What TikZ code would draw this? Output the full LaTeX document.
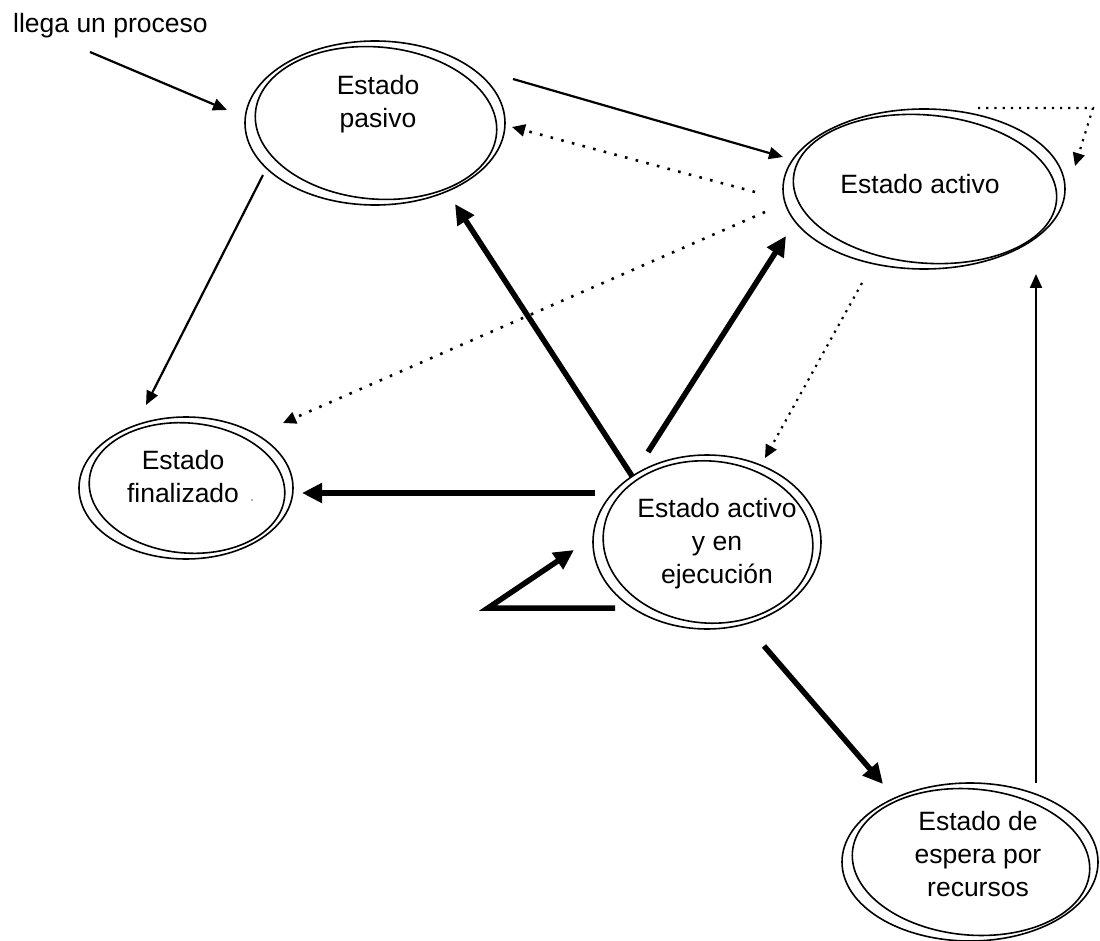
\documentclass[tikz,border=0pt]{standalone}
\usepackage{fontspec}
\setmainfont{Liberation Sans}
\usetikzlibrary{arrows.meta,shapes.geometric}

\tikzset{
  ring/.style={ellipse, draw, line width=1.6pt, inner sep=0pt},
  lbl/.style={font=\fontsize{26.5}{33}\selectfont, align=center, inner sep=0pt},
  thinarrow/.style={line width=2.2pt, -{Triangle[length=14pt,width=12pt]}},
  thickarrow/.style={line width=5.5pt, -{Triangle[length=20pt,width=19pt]}},
  dotarrow/.style={line width=2.6pt, dash pattern=on 2.6pt off 8.4pt, -{Triangle[length=13pt,width=12pt]}},
  finedots/.style={line width=2.2pt, dash pattern=on 2.2pt off 5.6pt, -{Triangle[length=13pt,width=12pt]}},
}

% double-ringed state: name, x, y, half width, half height
\newcommand\dblstate[5]{%
  \node[ring, minimum width={2*#4}, minimum height={2*#5}] (#1) at (#2,#3) {};
  \node[ring, minimum width={2*#4-18}, minimum height={2*#5-12}, rotate=-5] (#1-in) at (#2+1,#3) {};
}

\begin{document}
\begin{tikzpicture}[x=1pt,y=-1pt]
\useasboundingbox (0,0) rectangle (1100,941);

% states
\dblstate{pas}{375}{123}{130}{82}
\dblstate{act}{924}{189}{141}{80}
\dblstate{fin}{186}{488}{107}{71}
\dblstate{run}{707}{542}{114}{87}
\dblstate{esp}{970}{862}{128}{79}

% state names
\node[lbl] (pas-t) at (378,104) {Estado\\pasivo};
\node[lbl] (act-t) at (920,184) {Estado activo};
\node[lbl] (fin-t) at (183,477) {Estado\\finalizado};
\node[fill=black!55, circle, inner sep=0pt, minimum size=1.6pt] (fin-dot) at (252,500) {};
\node[lbl] (run-t) at (717,544) {Estado activo\\y en\\ejecución};
\node[lbl] (esp-t) at (978,854) {Estado de\\espera por\\recursos};
\node[lbl, anchor=west] (arr-t) at (13,26) {llega un proceso};

% connector end points
\coordinate (c-in0) at (90,52);    \coordinate (c-in1) at (227,110);
\coordinate (c-pa0) at (513,79);   \coordinate (c-pa1) at (783,157);
\coordinate (c-ap0) at (755,192);  \coordinate (c-ap1) at (512,127);
\coordinate (c-pf0) at (263,175);  \coordinate (c-pf1) at (146,405);
\coordinate (c-af0) at (765,212);  \coordinate (c-af1) at (283,423);
\coordinate (c-ar0) at (862,283);  \coordinate (c-ar1) at (765,458);
\coordinate (c-rp0) at (632,476);  \coordinate (c-rp1) at (455,204);
\coordinate (c-ra0) at (648,452);  \coordinate (c-ra1) at (786,236);
\coordinate (c-rf0) at (595,493);  \coordinate (c-rf1) at (302,493);
\coordinate (c-rr0) at (615,608);  \coordinate (c-rr1) at (488,608);
\coordinate (c-rr2) at (574,550);
\coordinate (c-re0) at (764,646);  \coordinate (c-re1) at (883,784);
\coordinate (c-ea0) at (1036,783); \coordinate (c-ea1) at (1036,274);
\coordinate (c-aa0) at (978,108);  \coordinate (c-aa1) at (1093,108);
\coordinate (c-aa2) at (1075,166);

% transitions
\draw[thinarrow] (c-in0) -- (c-in1);
\draw[thinarrow] (c-pa0) -- (c-pa1);
\draw[dotarrow]  (c-ap0) -- (c-ap1);
\draw[thinarrow] (c-pf0) -- (c-pf1);
\draw[dotarrow]  (c-af0) -- (c-af1);
\draw[finedots]  (c-ar0) -- (c-ar1);
\draw[thickarrow] (c-rp0) -- (c-rp1);
\draw[thickarrow] (c-ra0) -- (c-ra1);
\draw[thickarrow] (c-rf0) -- (c-rf1);
\draw[thickarrow, line join=miter] (c-rr0) -- (c-rr1) -- (c-rr2);
\draw[thickarrow] (c-re0) -- (c-re1);
\draw[thinarrow] (c-ea0) -- (c-ea1);
\draw[dotarrow, line width=2.2pt, dash pattern=on 2.2pt off 6pt] (c-aa0) -- (c-aa1) -- (c-aa2);
\end{tikzpicture}
\end{document}
